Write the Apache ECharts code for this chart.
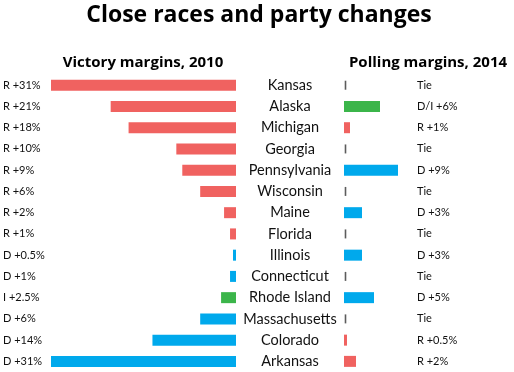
<!DOCTYPE html>
<html><head><meta charset="utf-8">
<script src="https://cdn.jsdelivr.net/npm/echarts@6/dist/echarts.min.js"></script>
<style>html,body{margin:0;padding:0;background:#fff}#c{width:514px;height:372px}</style>
</head><body><div id="c"></div>
<script>
const states = ["Kansas","Alaska","Michigan","Georgia","Pennsylvania","Wisconsin","Maine","Florida","Illinois","Connecticut","Rhode Island","Massachusetts","Colorado","Arkansas"];
const margins2010 = [31,21,18,10,9,6,2,1,0.5,1,2.5,6,14,31];
const party2010 = ["R","R","R","R","R","R","R","R","D","D","I","D","D","D"];
const labels2010 = ["R +31%","R +21%","R +18%","R +10%","R +9%","R +6%","R +2%","R +1%","D +0.5%","D +1%","I +2.5%","D +6%","D +14%","D +31%"];
const margins2014 = [0,6,1,0,9,0,3,0,3,0,5,0,0.5,2];
const party2014 = ["T","I","R","T","D","T","D","T","D","T","D","T","R","R"];
const labels2014 = ["Tie","D/I +6%","R +1%","Tie","D +9%","Tie","D +3%","Tie","D +3%","Tie","D +5%","Tie","R +0.5%","R +2%"];

const colors = {R:"#F06260", D:"#00A9EC", I:"#3BB54A", T:"#333"};
const FONT = "Lato";
const TFONT = "'Open Sans'";

const chart = echarts.init(document.getElementById('c'), null, {renderer:'canvas'});
const gTop = 74.6, gH = 299.6;
chart.setOption({
  animation:false,
  textStyle:{fontFamily:FONT},
  graphic:[
    {type:'text', style:{text:'Close races and party changes', x:259, y:15, textAlign:'center', textVerticalAlign:'middle', font:'bold 23px '+TFONT, fill:'#000'}},
    {type:'text', style:{text:'Victory margins, 2010', x:143, y:63, textAlign:'center', textVerticalAlign:'middle', font:'bold 15px '+TFONT, fill:'#000'}},
    {type:'text', style:{text:'Polling margins, 2014', x:428, y:63, textAlign:'center', textVerticalAlign:'middle', font:'bold 15px '+TFONT, fill:'#000'}}
  ],
  grid:[
    {left:49, width:187, top:gTop, height:gH},
    {left:344, width:60, top:gTop, height:gH}
  ],
  xAxis:[
    {gridIndex:0, type:'value', min:0, max:31, inverse:true, show:false},
    {gridIndex:1, type:'value', min:0, max:10, show:false}
  ],
  yAxis:[
    {gridIndex:0, type:'category', data:states, inverse:true, position:'left',
     axisLine:{show:false}, axisTick:{show:false},
     axisLabel:{margin:48, align:'left', fontSize:11, color:'#111', fontFamily:FONT, formatter:(v,i)=>labels2010[i]}},
    {gridIndex:0, type:'category', data:states, inverse:true, position:'right',
     axisLine:{show:false}, axisTick:{show:false},
     axisLabel:{margin:54, align:'center', fontSize:14.5, color:'#111', fontFamily:FONT}},
    {gridIndex:1, type:'category', data:states, inverse:true, position:'right',
     axisLine:{show:false}, axisTick:{show:false},
     axisLabel:{margin:13, align:'left', fontSize:11, color:'#111', fontFamily:FONT, formatter:(v,i)=>labels2014[i]}}
  ],
  series:[
    {type:'bar', xAxisIndex:0, yAxisIndex:0, barWidth:11,
     data:margins2010.map((v,i)=>({value:v, itemStyle:{color:colors[party2010[i]]}}))},
    {type:'bar', xAxisIndex:1, yAxisIndex:2, barWidth:11,
     data:margins2014.map((v,i)=>({value:v, itemStyle:{color:colors[party2014[i]]}}))},
    {type:'scatter', xAxisIndex:1, yAxisIndex:2, symbol:'rect', symbolSize:[1.6,9], symbolOffset:[1.5,0],
     itemStyle:{color:'#333'},
     data:margins2014.map((v,i)=>party2014[i]==='T'?[0,states[i]]:null).filter(d=>d)}
  ]
});
</script></body></html>
